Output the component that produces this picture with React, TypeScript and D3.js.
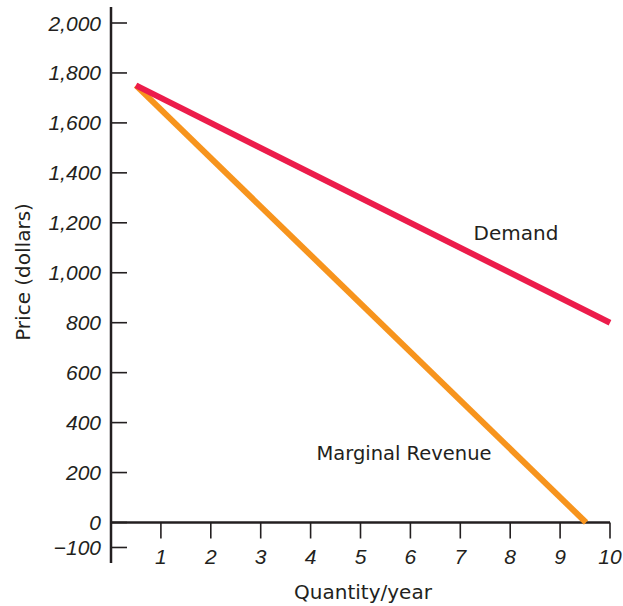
import React from "react";
import * as d3 from "d3";

const demandQ = [0.5, 10];
const demandP = [1750, 800];
const mrQ = [0.5, 9.52];
const mrP = [1750, 0];
const xTicks = [1, 2, 3, 4, 5, 6, 7, 8, 9, 10];
const yTicks = [-100, 0, 200, 400, 600, 800, 1000, 1200, 1400, 1600, 1800, 2000];

const W = 623;
const H = 606;

export default function App() {
  const x = d3.scaleLinear().domain([0, 10]).range([111, 610]);
  const y = d3.scaleLinear().domain([0, 2000]).range([522.5, 23]);
  const line = d3
    .line<[number, number]>()
    .x((d) => x(d[0]))
    .y((d) => y(d[1]));
  const demand = demandQ.map((q, i) => [q, demandP[i]] as [number, number]);
  const mr = mrQ.map((q, i) => [q, mrP[i]] as [number, number]);
  const fmt = (v: number) => (v < 0 ? "\u2212" + d3.format(",")(-v) : d3.format(",")(v));
  const tickFont = "'Liberation Sans', Arial, sans-serif";
  const labFont = "'DejaVu Sans', sans-serif";
  return (
    <svg
      width={W}
      height={H}
      style={{ position: "absolute", left: 0, top: 0, background: "#fff" }}
    >
      {/* axes */}
      <line x1={x(0)} x2={x(0)} y1={7} y2={563} stroke="#231f20" strokeWidth={2.5} />
      <line x1={x(0)} x2={x(10)} y1={y(0)} y2={y(0)} stroke="#231f20" strokeWidth={2.5} />
      {yTicks.map((t) => (
        <g key={"y" + t}>
          <line x1={x(0)} x2={x(0) + 16} y1={y(t)} y2={y(t)} stroke="#231f20" strokeWidth={1.6} />
          <text
            x={101}
            y={y(t) + 7.5}
            textAnchor="end"
            fontFamily={tickFont}
            fontStyle="italic"
            fontSize={21}
            fill="#231f20"
          >
            {fmt(t)}
          </text>
        </g>
      ))}
      {xTicks.map((t) => (
        <g key={"x" + t}>
          <line x1={x(t)} x2={x(t)} y1={y(0)} y2={y(0) + 16} stroke="#231f20" strokeWidth={1.6} />
          <text
            x={x(t)}
            y={564}
            textAnchor="middle"
            fontFamily={tickFont}
            fontStyle="italic"
            fontSize={21}
            fill="#231f20"
          >
            {t}
          </text>
        </g>
      ))}
      {/* curves */}
      <path d={line(mr) || ""} fill="none" stroke="#F7941D" strokeWidth={6} />
      <path d={line(demand) || ""} fill="none" stroke="#EC1C4B" strokeWidth={6} />
      {/* labels */}
      <text x={516} y={240} textAnchor="middle" fontFamily={labFont} fontSize={20} fill="#231f20">
        Demand
      </text>
      <text x={404} y={460} textAnchor="middle" fontFamily={labFont} fontSize={19.5} fill="#231f20">
        Marginal Revenue
      </text>
      <text x={363} y={599} textAnchor="middle" fontFamily={labFont} fontSize={20} fill="#231f20">
        Quantity/year
      </text>
      <text
        transform="translate(30,272) rotate(-90)"
        textAnchor="middle"
        fontFamily={labFont}
        fontSize={20}
        fill="#231f20"
      >
        Price (dollars)
      </text>
    </svg>
  );
}
